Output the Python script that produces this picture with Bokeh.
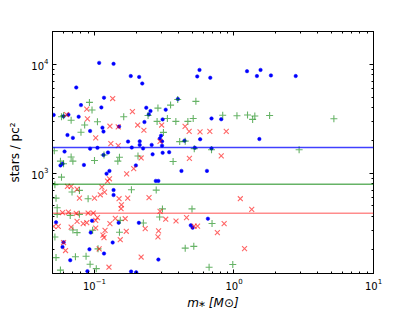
from bokeh.plotting import figure
from bokeh.models import LogAxis, LogTicker, CustomJSTickFormatter, Span
from bokeh.embed import file_html
from bokeh.resources import INLINE

# Blue dots
blue_mass = [0.051, 0.060, 0.065, 0.074, 0.080, 0.077, 0.064, 0.070, 0.093, 0.108,
             0.117, 0.112, 0.114, 0.116, 0.137, 0.150, 0.182, 0.209, 0.220, 0.235,
             0.252, 0.245, 0.324, 0.396, 0.228, 0.308, 0.300, 0.294, 0.305, 0.174,
             0.211, 0.211, 0.257, 0.185, 0.223, 0.442, 0.572, 0.524, 0.545, 0.566,
             0.676, 1.24, 1.46, 1.55, 1.84, 2.77, 0.69, 0.81, 1.52, 0.69,
             0.64, 0.65, 0.093, 0.105, 0.061, 0.116, 0.125, 0.261, 0.308, 0.343,
             0.057, 0.059, 0.084, 0.122, 0.128, 0.137, 0.137, 0.198, 0.275, 0.287,
             0.42, 0.053, 0.060, 0.059, 0.067, 0.092, 0.096, 0.094, 0.117, 0.135,
             0.149, 0.208, 0.287, 0.089, 0.183, 0.199, 0.490, 0.505, 0.305]
blue_density = [3430, 3330, 3450, 6120, 4220, 3300, 2240, 2110, 2440, 10300,
                4930, 4020, 2620, 2410, 10100, 2680, 7800, 7650, 6660, 3990,
                3720, 3460, 3830, 4790, 2950, 3120, 2210, 2080, 1960, 1950,
                1960, 1820, 1820, 1720, 1690, 1990, 2050, 1710, 7740, 8880,
                7520, 8650, 7800, 8880, 7910, 7800, 3180, 3130, 2060, 1690,
                1050, 382, 1680, 1710, 1580, 1470, 1550, 1490, 1540, 1560,
                1180, 1220, 1190, 990, 1050, 700, 630, 1180, 850, 850,
                1050, 354, 232, 210, 159, 200, 366, 285, 183, 231,
                351, 350, 161, 126, 125, 123, 332, 316, 1790]

# Green plus
green_mass = [0.0515, 0.058, 0.060, 0.068, 0.092, 0.096, 0.085, 0.080, 0.105, 0.162,
              0.242, 0.285, 0.351, 0.395, 0.533, 0.281, 0.333, 0.383, 0.467, 0.51,
              0.312, 0.408, 0.447, 0.519, 0.068, 0.151, 0.205, 0.83, 1.05, 1.25,
              1.41, 1.36, 1.80, 5.2, 0.69, 2.93, 0.057, 0.060, 0.070, 0.100,
              0.117, 0.147, 0.058, 0.052, 0.053, 0.069, 0.078, 0.090, 0.054, 0.054,
              0.067, 0.078, 0.052, 0.053, 0.070, 0.075, 0.097, 0.073, 0.087, 0.093,
              0.103, 0.057, 0.106, 0.153, 0.151, 0.224, 0.293, 0.447, 0.515, 0.366,
              0.184, 0.277, 0.307, 0.50, 0.696, 0.663, 0.98]
green_density = [1610, 3300, 3370, 3060, 4470, 3810, 2770, 2380, 2970, 3300,
                 3390, 3960, 4220, 4750, 4570, 2990, 3180, 2990, 2990, 3180,
                 2370, 1950, 1970, 1680, 1410, 1400, 1440, 3410, 3370, 3420,
                 3350, 3120, 3390, 3160, 1640, 1640, 1290, 1220, 1290, 1310,
                 1470, 1290, 920, 783, 590, 673, 695, 583, 482, 419,
                 410, 419, 260, 168, 301, 285, 299, 171, 173, 146,
                 133, 129, 202, 369, 287, 349, 396, 205, 213, 1280,
                 705, 700, 470, 470, 345, 137, 145]

# Red crosses
red_mass = [0.063, 0.088, 0.089, 0.102, 0.135, 0.187, 0.129, 0.148, 0.204, 0.226,
            0.131, 0.148, 0.303, 0.295, 0.446, 0.477, 0.571, 0.671, 0.88, 0.216,
            0.479, 0.81, 1.11, 1.34, 0.85, 0.76, 1.19, 0.191, 0.170, 0.064,
            0.068, 0.075, 0.078, 0.100, 0.110, 0.113, 0.118, 0.124, 0.128, 0.150,
            0.156, 0.155, 0.246, 0.173, 0.295, 0.059, 0.065, 0.090, 0.098, 0.105,
            0.141, 0.166, 0.051, 0.055, 0.060, 0.062, 0.068, 0.075, 0.083, 0.088,
            0.102, 0.102, 0.115, 0.117, 0.119, 0.129, 0.153, 0.108, 0.127, 0.169,
            0.231, 0.288, 0.285, 0.324, 0.384, 0.457, 0.518, 0.548, 0.216, 0.074]
red_density = [3450, 3880, 3150, 2110, 4850, 3670, 2700, 2660, 2770, 2480,
               1870, 1790, 2770, 1960, 2690, 2420, 2400, 2420, 2420, 1380,
               1370, 1440, 583, 466, 344, 285, 203, 1100, 985, 756,
               756, 714, 591, 591, 634, 745, 670, 845, 889, 583,
               513, 472, 597, 591, 447, 434, 440, 431, 431, 391,
               385, 382, 325, 325, 231, 195, 320, 361, 344, 351,
               369, 314, 270, 256, 299, 344, 245, 202, 137, 293,
               310, 295, 260, 378, 364, 391, 327, 327, 170, 428]

# Horizontal reference levels (blue, green, red)
level_values = [1720, 790, 430]
level_colors = ["#0000ff", "#008000", "#ff0000"]
level_alphas = [0.75, 0.6, 0.45]

x_limits = (0.05, 10)
y_limits = (120, 20000)

FONT = "DejaVu Sans"

p = figure(frame_width=321, frame_height=242,
           x_axis_type="log", y_axis_type="log",
           x_range=x_limits, y_range=y_limits,
           output_backend="svg", toolbar_location=None,
           min_border_left=52, min_border_top=31,
           min_border_right=34, min_border_bottom=31)
p.grid.visible = False
p.outline_line_color = "black"
p.outline_line_width = 1
p.background_fill_color = "white"
p.border_fill_color = "white"

p.scatter(blue_mass, blue_density, marker="circle", size=3.5,
          fill_color="#0000ff", line_color="#0000ff", line_width=0.5)
p.scatter(green_mass, green_density, marker="cross", size=7,
          line_color="#008000", line_alpha=0.6, line_width=1.1)
p.scatter(red_mass, red_density, marker="x", size=7,
          line_color="#ff0000", line_alpha=0.6, line_width=1.1)

for val, col, a in zip(level_values, level_colors, level_alphas):
    p.add_layout(Span(location=val, dimension="width", line_color=col,
                      line_alpha=a, line_width=1.5))

def style_axis(ax, show_labels=True):
    ax.ticker = LogTicker(num_minor_ticks=10)
    ax.major_tick_in = 4
    ax.major_tick_out = 0
    ax.minor_tick_in = 2
    ax.minor_tick_out = 0
    ax.axis_line_color = "black"
    ax.major_tick_line_color = "black"
    ax.minor_tick_line_color = "black"
    ax.major_label_text_font = FONT
    ax.major_label_text_color = "black"
    ax.major_label_text_font_size = "10px"
    if show_labels:
        ax.major_label_standoff = 4
    else:
        ax.formatter = CustomJSTickFormatter(code="return ' '")
        ax.major_label_text_font_size = "2px"
        ax.major_label_standoff = 0

for ax in p.xaxis + p.yaxis:
    style_axis(ax)

p.xaxis.axis_label = "m⁎ [M⊙]"
p.yaxis.axis_label = "stars / pc²"
for ax in p.xaxis + p.yaxis:
    ax.axis_label_text_font = FONT
    ax.axis_label_text_font_size = "12px"
    ax.axis_label_text_font_style = "normal"
    ax.axis_label_text_color = "black"
p.xaxis.axis_label_standoff = 3
p.yaxis.axis_label_standoff = 6
p.xaxis.axis_label_text_font_style = "italic"

top_axis = LogAxis()
style_axis(top_axis, show_labels=False)
p.add_layout(top_axis, "above")
right_axis = LogAxis()
style_axis(right_axis, show_labels=False)
p.add_layout(right_axis, "right")

open("out.html", "w").write(file_html(p, INLINE))
